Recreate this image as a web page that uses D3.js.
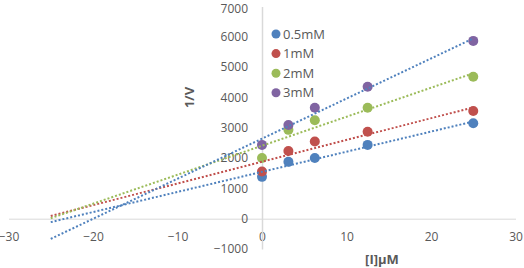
<!DOCTYPE html>
<html>
<head>
<meta charset="utf-8">
<script src="https://cdn.jsdelivr.net/npm/d3@7"></script>
<style>
    body { margin: 0; background: #fff; }
    #chart text { font-family: "Open Sans", "Noto Sans", sans-serif; fill: #595959; }
</style>
</head>
<body>
<div id="chart"></div>
<script>
// chart values
var concentrations = [0, 3.125, 6.25, 12.5, 25];
var seriesNames = ["0.5mM", "1mM", "2mM", "3mM"];
var values05 = [1380, 1875, 2000, 2435, 3150];
var values1 = [1555, 2235, 2545, 2870, 3555];
var values2 = [2000, 2930, 3245, 3660, 4680];
var values3 = [2435, 3090, 3660, 4350, 5865];
var xTicks = [-30, -20, -10, 0, 10, 20, 30];
var yTicks = [-1000, 0, 1000, 2000, 3000, 4000, 5000, 6000, 7000];
var trendRange = [-25, 25];

var markerColors = ["#4f81bd", "#c0504d", "#9bbb59", "#8064a2"];
// excel drew the 3mM trendline in blue
var trendColors = ["#4f81bd", "#c0504d", "#9bbb59", "#4f81bd"];

function draw() {
    "use strict";

    var width = 524;
    var height = 268;
    var allValues = [values05, values1, values2, values3];

    var series = seriesNames.map(function (name, i) {
        return {
            name: name,
            marker: markerColors[i],
            trend: trendColors[i],
            points: concentrations.map(function (c, j) { return { x: c, y: allValues[i][j] }; })
        };
    });

    // least squares line for a series
    function fit(points) {
        var mx = d3.mean(points, function (d) { return d.x; });
        var my = d3.mean(points, function (d) { return d.y; });
        var sxy = d3.sum(points, function (d) { return (d.x - mx) * (d.y - my); });
        var sxx = d3.sum(points, function (d) { return (d.x - mx) * (d.x - mx); });
        var slope = sxy / sxx;
        return { slope: slope, intercept: my - slope * mx };
    }

    var xScale = d3.scaleLinear().domain([-30, 30]).range([8.5, 515.5]);
    var yScale = d3.scaleLinear().domain([-1000, 7000]).range([249, 6.5]);

    var svg = d3.select("#chart").append("svg")
        .attr("width", width)
        .attr("height", height);

    // x axis through y = 0
    var xAxis = d3.axisBottom(xScale)
        .tickValues(xTicks)
        .tickSize(0)
        .tickPadding(14)
        .tickFormat(d3.format("d"));

    var gx = svg.append("g")
        .attr("transform", "translate(0," + yScale(0) + ")")
        .call(xAxis);
    gx.select(".domain").attr("stroke", "#d9d9d9").attr("stroke-width", 1);
    gx.selectAll("text").style("font-size", "12px").attr("fill", "#595959");

    // y axis through x = 0
    var yAxis = d3.axisLeft(yScale)
        .tickValues(yTicks)
        .tickSize(0)
        .tickPadding(14)
        .tickFormat(d3.format("d"));

    var gy = svg.append("g")
        .attr("transform", "translate(" + xScale(0) + ",0)")
        .call(yAxis);
    gy.select(".domain").attr("stroke", "#d9d9d9").attr("stroke-width", 1.5);
    gy.selectAll("text").style("font-size", "12px").attr("fill", "#595959");
    // keep the top label inside the window
    gy.selectAll(".tick text")
        .filter(function (d) { return d === 7000; })
        .attr("dy", "0.5em");

    // markers
    series.forEach(function (s) {
        svg.append("g").selectAll("circle")
            .data(s.points)
            .enter()
            .append("circle")
            .attr("cx", function (d) { return xScale(d.x); })
            .attr("cy", function (d) { return yScale(d.y); })
            .attr("r", 5)
            .attr("fill", s.marker);
    });

    // dotted trendlines, extended back to x = -25
    series.forEach(function (s) {
        var f = fit(s.points);
        var line = d3.line()
            .x(function (d) { return xScale(d); })
            .y(function (d) { return yScale(f.intercept + f.slope * d); });
        svg.append("path")
            .datum(trendRange)
            .attr("d", line)
            .attr("fill", "none")
            .attr("stroke", s.trend)
            .attr("stroke-width", 2)
            .attr("stroke-dasharray", "2,2");
    });

    // axis titles
    svg.append("text")
        .attr("transform", "translate(194," + yScale(4000) + ") rotate(-90)")
        .attr("text-anchor", "middle")
        .style("font-size", "13px")
        .style("font-weight", "bold")
        .text("1/V");

    svg.append("text")
        .attr("x", 382)
        .attr("y", 264)
        .attr("text-anchor", "middle")
        .style("font-size", "13px")
        .style("font-weight", "bold")
        .text("[I]μM");

    // legend
    var legend = svg.append("g").attr("transform", "translate(276,34)");
    var rows = legend.selectAll("g")
        .data(series)
        .enter()
        .append("g")
        .attr("transform", function (d, i) { return "translate(0," + (i * 19.6) + ")"; });

    rows.append("circle")
        .attr("r", 4.5)
        .attr("fill", function (d) { return d.marker; });

    rows.append("text")
        .attr("x", 7)
        .attr("dy", "0.35em")
        .style("font-size", "13px")
        .text(function (d) { return d.name; });
}

draw();
</script>
</body>
</html>
